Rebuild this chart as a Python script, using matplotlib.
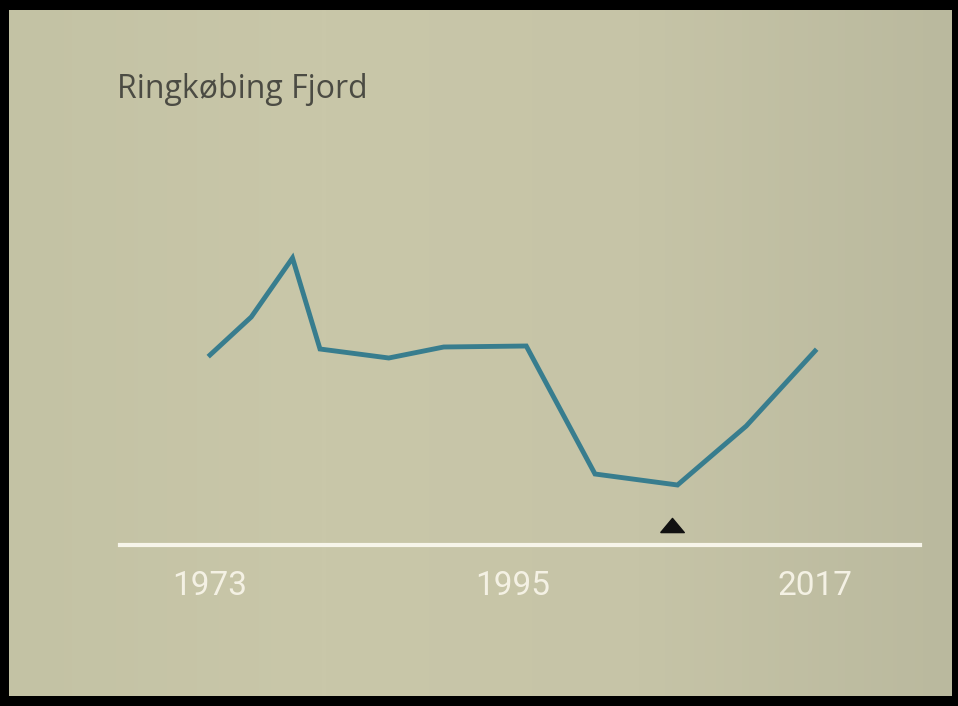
import numpy as np
import matplotlib.pyplot as plt
from matplotlib.colors import LinearSegmentedColormap

# data (arbitrary index, 0 = axis line)
years = [1973, 1976, 1979, 1981, 1986, 1990, 1996, 2001, 2007, 2012, 2017]
values = [190, 228, 287, 196, 187, 198, 199, 71, 60, 119, 194]
tick_years = [1973, 1995, 2017]
title = "Ringkøbing Fjord"

W, H = 958, 706
fig = plt.figure(figsize=(W / 100, H / 100), dpi=100, facecolor="black")

# framed beige background with a soft horizontal gradient
bg = fig.add_axes([9 / W, 10 / H, (952 - 9) / W, (696 - 10) / H])
bg.set_axis_off()
cmap = LinearSegmentedColormap.from_list(
    "bg", ["#c3c2a4", "#c9c7a9", "#c6c4a7", "#bab99e"])
bg.imshow(np.linspace(0, 1, 256)[None, :], aspect="auto", cmap=cmap,
          extent=[0, 1, 0, 1])
bg.set_xlim(0, 1)
bg.set_ylim(0, 1)

# title
fig.text(117 / W, 1 - 90 / H, title, fontsize=23, color="#4b4b43",
         va="center", ha="left", family=["Open Sans", "DejaVu Sans"])

# main axes: bottom spine is the white axis line
ax = fig.add_axes([120 / W, 1 - 545 / H, 800 / W, 345 / H])
ax.patch.set_alpha(0)
px_per_year = 605 / 44
ax.set_xlim(1973 - 90 / px_per_year, 2017 + 105 / px_per_year)
ax.set_ylim(0, 345)

ax.plot(years, values, color="#387d8e", linewidth=3.5,
        solid_joinstyle="miter", zorder=3)

# marker under the lowest point
i_min = int(np.argmin(values))
tri = [(-1, -0.6), (1, -0.6), (0, 0.6), (-1, -0.6)]
ax.plot([years[i_min] - 0.4], [20], marker=tri, markersize=17,
        color="#111111", linestyle="none")

for s in ["top", "right", "left"]:
    ax.spines[s].set_visible(False)
ax.spines["bottom"].set_color("#f7f5ea")
ax.spines["bottom"].set_linewidth(3)
ax.set_yticks([])
ax.set_xticks(tick_years)
ax.set_xticklabels([str(y) for y in tick_years])
ax.tick_params(axis="x", length=0, pad=18, labelsize=24,
               labelcolor="#f4f1e4")
for lab in ax.get_xticklabels():
    lab.set_family(["Roboto", "DejaVu Sans"])

fig.savefig("out.png", dpi=100, facecolor="black")
